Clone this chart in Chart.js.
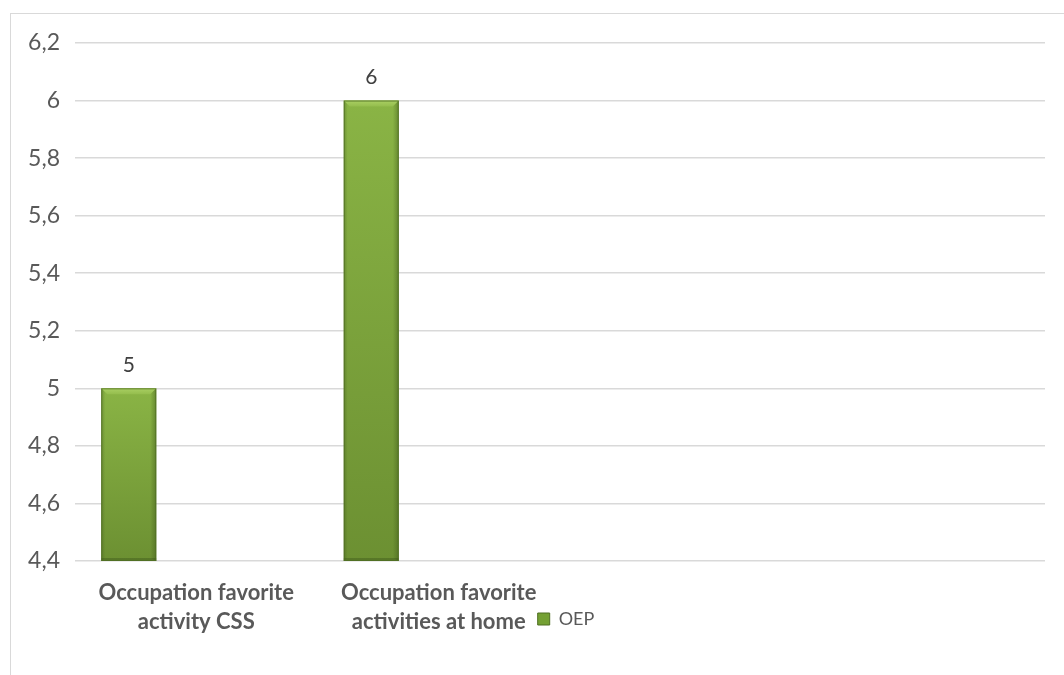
<!DOCTYPE html>
<html>
<head>
<meta charset="utf-8">
<script src="https://cdn.jsdelivr.net/npm/chart.js@4/dist/chart.umd.min.js"></script>
<style>
  html, body { margin: 0; padding: 0; background: #ffffff; }
  #wrap { position: relative; width: 1064px; height: 675px; overflow: hidden; }
  #frame { position: absolute; left: 10px; top: 13px; width: 1200px; height: 800px;
           border-left: 1px solid #d9d9d9; border-top: 1px solid #d9d9d9; box-sizing: border-box; }
  canvas { position: absolute; left: 0; top: 0; }
</style>
</head>
<body>
<div id="wrap">
  <div id="frame"></div>
  <canvas id="c" width="1064" height="675"></canvas>
</div>
<script>
// ---- data ----
const categories = [
  ["Occupation favorite", "activity CSS"],
  ["Occupation favorite", "activities at home"],
  "",
  ""
];
const seriesNames = ["OEP", "Series 2", "Series 3"];
const oepValues = [5, 6, null, null];
const series2Values = [null, null, null, null];
const series3Values = [null, null, null, null];
const yTickMin = 4.4;
const yTickMax = 6.2;
const yTickStep = 0.2;

const FONT = "Lato, 'Open Sans', 'DejaVu Sans', sans-serif";

function barFill(context) {
  const chart = context.chart;
  const ca = chart.chartArea;
  const ys = chart.scales.y;
  if (!ca || !ys || context.raw === null || context.raw === undefined) return '#7aa23a';
  const top = ys.getPixelForValue(context.raw);
  const g = chart.ctx.createLinearGradient(0, top, 0, ca.bottom);
  g.addColorStop(0, '#8ab445');
  g.addColorStop(1, '#6c9032');
  return g;
}

const barDeco = {
  id: 'barDeco',
  afterDatasetsDraw(chart) {
    const ctx = chart.ctx;
    const ca = chart.chartArea;
    const meta = chart.getDatasetMeta(0);
    meta.data.forEach((bar, i) => {
      const v = oepValues[i];
      if (v === null || v === undefined) return;
      const p = bar.getProps(['x', 'y', 'base', 'width'], true);
      const l = p.x - p.width / 2, r = p.x + p.width / 2, t = p.y;
      const b = Math.min(p.base, ca.bottom);
      const bev = 6;
      ctx.save();
      // top bevel (lighter)
      const tg = ctx.createLinearGradient(0, t, 0, t + bev);
      tg.addColorStop(0, '#a9cf63');
      tg.addColorStop(1, '#94bd4d');
      ctx.fillStyle = tg;
      ctx.beginPath();
      ctx.moveTo(l, t); ctx.lineTo(r, t); ctx.lineTo(r - bev, t + bev); ctx.lineTo(l + bev, t + bev);
      ctx.closePath(); ctx.fill();
      // right side shade
      const rg = ctx.createLinearGradient(r - bev, 0, r, 0);
      rg.addColorStop(0, 'rgba(60,85,25,0.0)');
      rg.addColorStop(1, 'rgba(60,85,25,0.45)');
      ctx.fillStyle = rg;
      ctx.beginPath();
      ctx.moveTo(r, t); ctx.lineTo(r - bev, t + bev); ctx.lineTo(r - bev, b - 3); ctx.lineTo(r, b);
      ctx.closePath(); ctx.fill();
      // left side shade
      const lg = ctx.createLinearGradient(l, 0, l + 4, 0);
      lg.addColorStop(0, 'rgba(60,85,25,0.35)');
      lg.addColorStop(1, 'rgba(60,85,25,0.0)');
      ctx.fillStyle = lg;
      ctx.beginPath();
      ctx.moveTo(l, t); ctx.lineTo(l + 4, t + 4); ctx.lineTo(l + 4, b - 3); ctx.lineTo(l, b);
      ctx.closePath(); ctx.fill();
      // bottom bevel
      ctx.fillStyle = 'rgba(50,75,20,0.35)';
      ctx.fillRect(l, b - 3, r - l, 3);
      // outline
      ctx.strokeStyle = 'rgba(80,110,35,0.8)';
      ctx.lineWidth = 1;
      ctx.strokeRect(l + 0.5, t + 0.5, r - l - 1, b - t - 1);
      // data label
      ctx.fillStyle = '#404040';
      ctx.font = "21px " + FONT;
      ctx.textAlign = 'center';
      ctx.textBaseline = 'middle';
      ctx.fillText(String(v), p.x, t - 23);
      ctx.restore();
    });
  }
};

const legendShift = {
  id: 'legendShift',
  afterLayout(chart) {
    const lg = chart.legend;
    if (!lg) return;
    const ca = chart.chartArea;
    const centre = (ca.left + ca.right) / 2 + 6;
    const cur = (lg.left + lg.right) / 2;
    const dx = centre - cur;
    lg.left += dx; lg.right += dx;
    const dy = 604 - lg.top;
    lg.top += dy; lg.bottom += dy;
  }
};

function fmt(v) {
  const n = Math.round(v * 10) / 10;
  return String(n).replace('.', ',');
}

new Chart(document.getElementById('c'), {
  type: 'bar',
  data: {
    labels: categories,
    datasets: [
      { label: seriesNames[0], data: oepValues, backgroundColor: barFill, borderWidth: 0 },
      { label: seriesNames[1], data: series2Values, backgroundColor: '#4f81bd' },
      { label: seriesNames[2], data: series3Values, backgroundColor: '#c0504d' }
    ]
  },
  options: {
    responsive: false,
    animation: false,
    devicePixelRatio: 1,
    categoryPercentage: 0.835,
    barPercentage: 0.815,
    layout: { padding: { top: 43, right: 19, bottom: 0, left: 0 } },
    plugins: {
      legend: {
        position: 'bottom',
        labels: {
          boxWidth: 12, boxHeight: 12,
          color: '#595959',
          font: { family: FONT, size: 18 },
          padding: 6,
          generateLabels: (chart) => [{
            text: seriesNames[0], fillStyle: '#74a033', strokeStyle: '#4f6f22',
            fontColor: '#595959',
            lineWidth: 1, datasetIndex: 0, hidden: false
          }]
        }
      },
      tooltip: { enabled: false }
    },
    scales: {
      x: {
        grid: { display: false },
        border: { display: false },
        ticks: {
          color: '#595959',
          font: { family: FONT, size: 22, weight: 'bold', lineHeight: 1.32 },
          padding: 9,
          maxRotation: 0, autoSkip: false
        },
        afterFit: (s) => { s.height = 80; }
      },
      y: {
        min: yTickMin, max: yTickMax,
        grid: { color: '#d9d9d9', lineWidth: 1.5, drawTicks: false },
        border: { display: false },
        ticks: {
          stepSize: yTickStep,
          color: '#595959',
          font: { family: FONT, size: 23 },
          padding: 15,
          callback: (v) => fmt(v)
        },
        afterFit: (s) => { s.width = 75; }
      }
    }
  },
  plugins: [barDeco, legendShift]
});
</script>
</body>
</html>
